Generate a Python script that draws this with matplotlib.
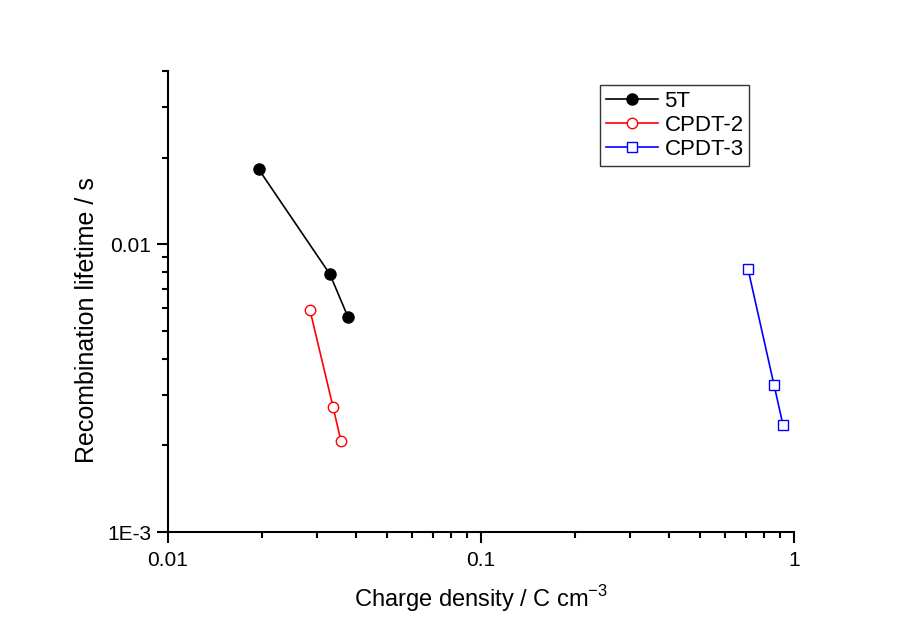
import matplotlib
matplotlib.use("Agg")
import matplotlib.pyplot as plt
from matplotlib.ticker import LogLocator, FixedLocator, FixedFormatter, NullFormatter

plt.rcParams['font.family'] = ['Liberation Sans', 'DejaVu Sans']
plt.rcParams['mathtext.fontset'] = 'custom'
plt.rcParams['mathtext.rm'] = 'Liberation Sans'

x_5t = [0.0195, 0.0329, 0.0376]
y_5t = [0.0182, 0.00787, 0.00558]
x_c2 = [0.0284, 0.0337, 0.0357]
y_c2 = [0.00592, 0.00271, 0.00207]
x_c3 = [0.713, 0.863, 0.922]
y_c3 = [0.0082, 0.00325, 0.00236]

xticks = [0.01, 0.1, 1]
xticklabels = ['0.01', '0.1', '1']
yticks = [0.001, 0.01]
yticklabels = ['1E-3', '0.01']

fig = plt.figure(figsize=(9.04, 6.30), dpi=100)
ax = fig.add_axes([168/904, 1-532/630, (794-168)/904, (532-71)/630])

ax.plot(x_5t, y_5t, '-o', color='black', lw=1.2, ms=8, mfc='black', mec='black', label='5T')
ax.plot(x_c2, y_c2, '-o', color='red', lw=1.2, ms=7.5, mfc='white', mec='red', mew=1.0, label='CPDT-2')
ax.plot(x_c3, y_c3, '-s', color='blue', lw=1.2, ms=7, mfc='white', mec='blue', mew=1.0, label='CPDT-3')

ax.set_xscale('log')
ax.set_yscale('log')
ax.set_xlim(0.01, 1)
ax.set_ylim(0.001, 0.04)

ax.xaxis.set_major_locator(FixedLocator(xticks))
ax.xaxis.set_major_formatter(FixedFormatter(xticklabels))
ax.xaxis.set_minor_locator(LogLocator(base=10, subs=range(2, 10)))
ax.xaxis.set_minor_formatter(NullFormatter())
ax.yaxis.set_major_locator(FixedLocator(yticks))
ax.yaxis.set_major_formatter(FixedFormatter(yticklabels))
ax.yaxis.set_minor_locator(LogLocator(base=10, subs=range(2, 10)))
ax.yaxis.set_minor_formatter(NullFormatter())

for s in ['top', 'right']:
    ax.spines[s].set_visible(False)
for s in ['left', 'bottom']:
    ax.spines[s].set_linewidth(1.5)

ax.tick_params(which='major', direction='out', length=8, width=1.5, labelsize=15, pad=4)
ax.tick_params(which='minor', direction='out', length=4, width=1.5)
ax.tick_params(axis='x', which='major', pad=6)

ax.set_xlabel('Charge density / C cm$^{\\mathregular{-3}}$', fontsize=17, labelpad=9)
ax.set_ylabel('Recombination lifetime / s', fontsize=18, labelpad=14)
ax.yaxis.set_label_coords(-0.11, 0.46)

leg = ax.legend(loc='upper left', bbox_to_anchor=((600-168)/626, 1-(85-71)/461),
                fontsize=16, frameon=True, fancybox=False, edgecolor='black',
                handlelength=2.35, handletextpad=0.3, borderpad=0.25, labelspacing=0.15,
                borderaxespad=0)
leg.get_frame().set_linewidth(1.0)

fig.savefig('out.png', dpi=100, facecolor='white')
